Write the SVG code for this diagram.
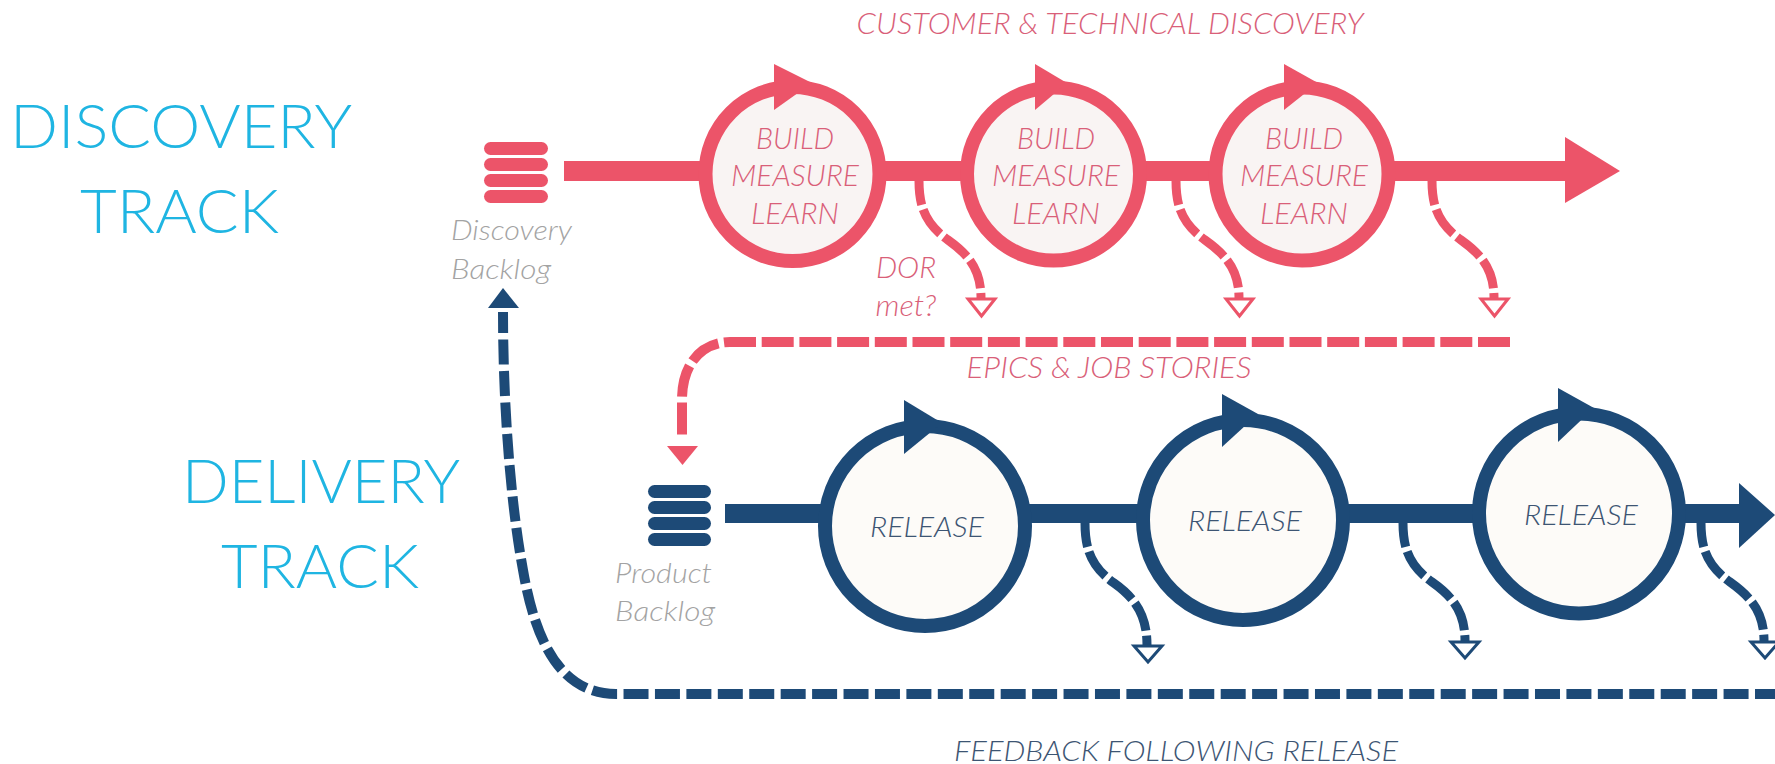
<svg xmlns="http://www.w3.org/2000/svg" width="1775" height="764" viewBox="0 0 1775 764">
<style>
text{font-family:Lato,"Open Sans","Liberation Sans",sans-serif;font-weight:300}
.t{font-size:61px;fill:#1fb5e2}
.i{font-style:italic;text-anchor:middle}
.p{font-size:29px;fill:#d95f79}
.n{font-size:28px;fill:#3d5573}
.g{font-size:28px;fill:#a3a3a3;text-anchor:start}
.cp{fill:#f9f4f3;stroke:#ec5469;stroke-width:14}
.cn{fill:#fdfbf8;stroke:#1d4a77;stroke-width:14}
.fp{fill:#ec5469}.fn{fill:#1d4a77}
.dp,.dn{fill:none;stroke-width:9;stroke-dasharray:30 5;stroke-dashoffset:6}
.dp{stroke:#ec5469}.dn{stroke:#1d4a77}
.hp{fill:#fff;stroke:#ec5469;stroke-width:3}
.hn{fill:#fff;stroke:#1d4a77;stroke-width:3}
</style>
<g id="titles">
<text class="t" x="10" y="148" textLength="342" lengthAdjust="spacingAndGlyphs">DISCOVERY</text>
<text class="t" x="80" y="233" textLength="199" lengthAdjust="spacingAndGlyphs">TRACK</text>
<text class="t" x="182" y="503" textLength="278" lengthAdjust="spacingAndGlyphs">DELIVERY</text>
<text class="t" x="221" y="588" textLength="198" lengthAdjust="spacingAndGlyphs">TRACK</text>
</g>
<g id="connectors">
<rect class="fp" x="564" y="161" width="1002" height="20"/>
<path class="fp" d="M1565,137L1620,171L1565,203Z"/>
<rect class="fn" x="725" y="504" width="1020" height="19"/>
<path class="fn" d="M1739,483L1775,515L1739,548Z"/>
<path class="dp" d="M919,181c0,28 8,44 29,59c21,15 33,30 33,58"/>
<path class="dp" d="M1176,181c0,28 8,44 29,59c21,15 34,30 34,58"/>
<path class="dp" d="M1432,181c0,28 8,44 29,59c21,15 33,30 33,58"/>
<path class="dn" d="M1085,523c0,29 8,45 29,60c21,15 33,32 33,62"/>
<path class="dn" d="M1403,523c0,28 8,44 29,59c21,15 33,30 33,59"/>
<path class="dn" d="M1701,523c0,28 8,44 29,59c21,15 34,30 34,59"/>
<path class="hp" d="M968,299H995L981.500,316Z"/>
<path class="hp" d="M1226,299H1253L1239.500,316Z"/>
<path class="hp" d="M1481,299H1508L1494.500,316Z"/>
<path class="hn" d="M1134,646H1162L1148,662Z"/>
<path class="hn" d="M1451,642H1479L1465,658Z"/>
<path class="hn" d="M1751,642H1779L1765,658Z"/>
<path class="dp" style="stroke-width:10;stroke-dasharray:32 5.700;stroke-dashoffset:0" d="M1510,342H730C705,342 682,360 682,400V440"/>
<path class="fp" d="M667,446H698L682.500,465Z"/>
<path class="dn" style="stroke-width:10;stroke-dasharray:25 6.430;stroke-dashoffset:5" d="M1775,694H616C560,694 535,640 523,570C510,500 503,400 503,312"/>
<path class="fn" d="M488,308L503,288L519,308Z"/>
</g>
<g id="discovery-backlog" class="fp">
<rect x="484" y="142" width="64" height="13" rx="6.500"/>
<rect x="484" y="158" width="64" height="13" rx="6.500"/>
<rect x="484" y="174" width="64" height="13" rx="6.500"/>
<rect x="484" y="190" width="64" height="13" rx="6.500"/>
<text class="i g" x="451" y="240" textLength="121" lengthAdjust="spacingAndGlyphs">Discovery</text>
<text class="i g" x="451" y="279" textLength="100" lengthAdjust="spacingAndGlyphs">Backlog</text>
</g>
<g id="build-1">
<circle class="cp" cx="792.500" cy="174" r="87"/>
<path class="fp" d="M774,64L812,83L774,110Z"/>
<text class="i p" x="795" y="149" textLength="78" lengthAdjust="spacingAndGlyphs">BUILD</text>
<text class="i p" x="795" y="186" textLength="128" lengthAdjust="spacingAndGlyphs">MEASURE</text>
<text class="i p" x="795" y="224" textLength="88" lengthAdjust="spacingAndGlyphs">LEARN</text>
</g>
<g id="build-2">
<circle class="cp" cx="1053.500" cy="174" r="86.500"/>
<path class="fp" d="M1035,64L1067,83L1035,110Z"/>
<text class="i p" x="1056" y="149" textLength="78" lengthAdjust="spacingAndGlyphs">BUILD</text>
<text class="i p" x="1056" y="186" textLength="128" lengthAdjust="spacingAndGlyphs">MEASURE</text>
<text class="i p" x="1056" y="224" textLength="88" lengthAdjust="spacingAndGlyphs">LEARN</text>
</g>
<g id="build-3">
<circle class="cp" cx="1302" cy="174" r="86.500"/>
<path class="fp" d="M1284,64L1318,83L1284,110Z"/>
<text class="i p" x="1304" y="149" textLength="78" lengthAdjust="spacingAndGlyphs">BUILD</text>
<text class="i p" x="1304" y="186" textLength="128" lengthAdjust="spacingAndGlyphs">MEASURE</text>
<text class="i p" x="1304" y="224" textLength="88" lengthAdjust="spacingAndGlyphs">LEARN</text>
</g>
<g id="labels-pink">
<text class="i p" x="1110" y="34" textLength="507" lengthAdjust="spacingAndGlyphs">CUSTOMER &amp; TECHNICAL DISCOVERY</text>
<text class="i p" x="906" y="278" textLength="60" lengthAdjust="spacingAndGlyphs">DOR</text>
<text class="i p" x="906" y="316" textLength="61" lengthAdjust="spacingAndGlyphs">met?</text>
<text class="i p" x="1109" y="378" textLength="285" lengthAdjust="spacingAndGlyphs">EPICS &amp; JOB STORIES</text>
</g>
<g id="product-backlog" class="fn">
<rect x="648" y="485" width="63" height="13" rx="6.500"/>
<rect x="648" y="501" width="63" height="13" rx="6.500"/>
<rect x="648" y="517" width="63" height="13" rx="6.500"/>
<rect x="648" y="533" width="63" height="13" rx="6.500"/>
<text class="i g" x="615" y="583" textLength="97" lengthAdjust="spacingAndGlyphs">Product</text>
<text class="i g" x="615" y="621" textLength="100" lengthAdjust="spacingAndGlyphs">Backlog</text>
</g>
<g id="release-1">
<circle class="cn" cx="925" cy="526" r="100"/>
<path class="fn" d="M904,400L942,423L904,454Z"/>
<text class="i n" x="927" y="537" textLength="114" lengthAdjust="spacingAndGlyphs">RELEASE</text>
</g>
<g id="release-2">
<circle class="cn" cx="1243" cy="520" r="100"/>
<path class="fn" d="M1222,394L1258,414L1222,447Z"/>
<text class="i n" x="1245" y="531" textLength="114" lengthAdjust="spacingAndGlyphs">RELEASE</text>
</g>
<g id="release-3">
<circle class="cn" cx="1579" cy="513.500" r="100"/>
<path class="fn" d="M1558,388L1594,408L1558,442Z"/>
<text class="i n" x="1581" y="525" textLength="114" lengthAdjust="spacingAndGlyphs">RELEASE</text>
</g>
<g id="label-feedback">
<text class="i n" x="1176" y="761" textLength="444" lengthAdjust="spacingAndGlyphs">FEEDBACK FOLLOWING RELEASE</text>
</g>
</svg>
